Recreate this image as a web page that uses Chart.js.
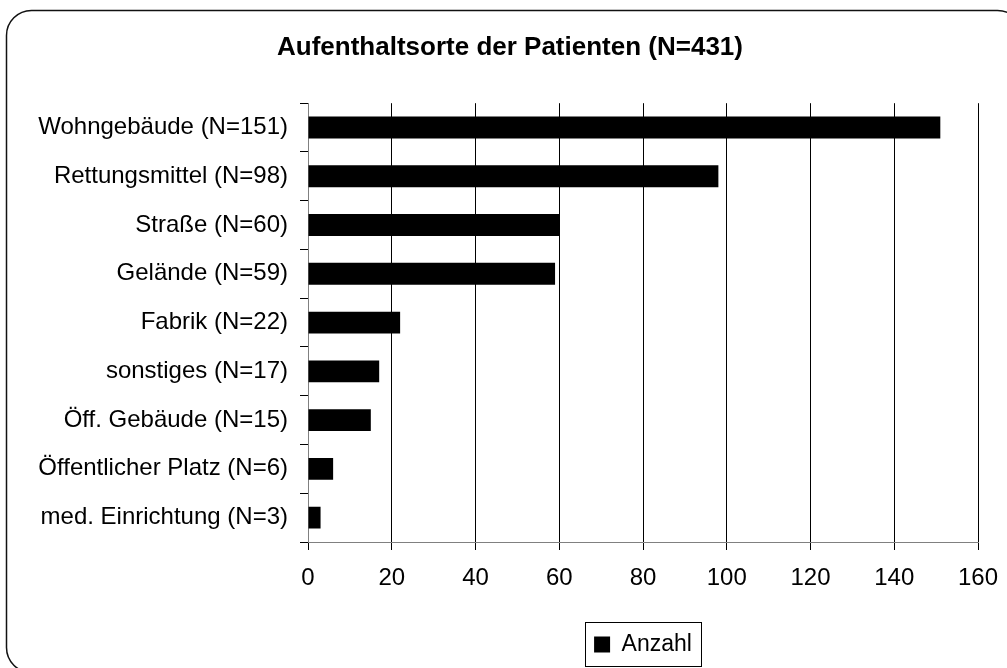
<!DOCTYPE html>
<html><head><meta charset="utf-8">
<script src="https://cdn.jsdelivr.net/npm/chart.js@4"></script>
<style>html,body{margin:0;padding:0;background:#fff;overflow:hidden;}</style>
</head><body>
<canvas id="c" width="1007" height="668" style="display:block;width:1007px;height:668px"></canvas>
<script>
const chartTitle = "Aufenthaltsorte der Patienten (N=431)";
const categories = ["Wohngebäude (N=151)", "Rettungsmittel (N=98)", "Straße (N=60)", "Gelände (N=59)", "Fabrik (N=22)", "sonstiges (N=17)", "Öff. Gebäude (N=15)", "Öffentlicher Platz (N=6)", "med. Einrichtung (N=3)"];
const seriesName = "Anzahl";
const anzahl = [151, 98, 60, 59, 22, 17, 15, 6, 3];
const xTicks = [0, 20, 40, 60, 80, 100, 120, 140, 160];

const FONT = "'Liberation Sans', Arial, Helvetica, sans-serif";
Chart.defaults.color = '#000';
Chart.defaults.font.family = FONT;

const PAD_LEFT = 20, PAD_RIGHT = 29, TITLE_SHIFT = 11;

const framePlugin = {
  id: 'frame',
  afterLayout(chart) {
    const t = chart.titleBlock;
    if (t) { t.left += TITLE_SHIFT; t.right += TITLE_SHIFT; }
  },
  beforeDraw(chart) {
    const ctx = chart.ctx;
    ctx.save();
    ctx.fillStyle = '#fff';
    ctx.fillRect(0, 0, chart.width, chart.height);
    const x = 6.5, y = 10.5, w = 1016, h = 662, r = 25;
    ctx.beginPath();
    ctx.moveTo(x + r, y);
    ctx.lineTo(x + w - r, y);
    ctx.arcTo(x + w, y, x + w, y + r, r);
    ctx.lineTo(x + w, y + h - r);
    ctx.arcTo(x + w, y + h, x + w - r, y + h, r);
    ctx.lineTo(x + r, y + h);
    ctx.arcTo(x, y + h, x, y + h - r, r);
    ctx.lineTo(x, y + r);
    ctx.arcTo(x, y, x + r, y, r);
    ctx.closePath();
    ctx.lineWidth = 1.5;
    ctx.strokeStyle = '#111';
    ctx.stroke();
    ctx.restore();
  },
  afterDraw(chart) {
    const lg = chart.legend;
    if (!lg || !lg.legendHitBoxes || !lg.legendHitBoxes.length) return;
    const hb = lg.legendHitBoxes[0];
    const ctx = chart.ctx;
    ctx.save();
    ctx.strokeStyle = '#000';
    ctx.lineWidth = 1;
    const l = Math.round(hb.left - 9) + 0.5;
    const r = Math.round(hb.left + hb.width + 9) + 0.5;
    const t = 622.5, b = 666.5;
    ctx.strokeRect(l, t, r - l, b - t);
    ctx.restore();
  }
};

new Chart(document.getElementById('c'), {
  type: 'bar',
  data: {
    labels: categories,
    datasets: [{
      label: seriesName,
      data: anzahl,
      backgroundColor: '#000',
      borderWidth: 0,
      barPercentage: 0.45,
      categoryPercentage: 1.0
    }]
  },
  options: {
    indexAxis: 'y',
    responsive: false,
    animation: false,
    devicePixelRatio: 1,
    layout: { padding: { left: PAD_LEFT, right: PAD_RIGHT, top: 0, bottom: 2 } },
    plugins: {
      title: {
        display: true,
        text: chartTitle,
        font: { size: 26, weight: 'bold', family: FONT },
        color: '#000',
        padding: { top: 32, bottom: 40 }
      },
      legend: {
        display: true,
        position: 'bottom',
        fullSize: false,
        labels: {
          font: { size: 23, family: FONT },
          color: '#000',
          boxWidth: 16,
          boxHeight: 16,
          padding: 10
        }
      },
      tooltip: { enabled: false }
    },
    scales: {
      x: {
        type: 'linear',
        min: 0,
        max: 160,
        afterBuildTicks(scale) { scale.ticks = xTicks.map(v => ({ value: v })); },
        afterFit(scale) { scale.height = 81; scale.paddingLeft = 0; scale.paddingRight = 0; },
        grid: { color: '#000', lineWidth: 1, tickLength: 8, tickColor: '#000', drawTicks: true },
        border: { color: '#808080', width: 1 },
        ticks: { font: { size: 24, family: FONT }, color: '#000', padding: 14, maxRotation: 0 }
      },
      y: {
        type: 'category',
        offset: true,
        afterFit(scale) { scale.width = 308 - PAD_LEFT; scale.paddingTop = 0; scale.paddingBottom = 0; },
        grid: { offset: true, drawOnChartArea: false, drawTicks: true, tickLength: 8, tickColor: '#000' },
        border: { color: '#808080', width: 1 },
        ticks: { font: { size: 24, family: FONT }, color: '#000', padding: 12, autoSkip: false }
      }
    }
  },
  plugins: [framePlugin]
});
</script>
</body></html>
